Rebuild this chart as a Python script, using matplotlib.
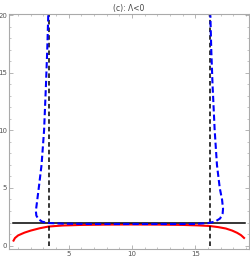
import matplotlib.pyplot as plt
import numpy as np

# values
red_x = [0.6, 0.75, 1.0, 1.5, 2.0, 2.7, 3.4, 4.5, 6, 8, 10, 12, 14, 15.2, 16.1, 16.8, 17.4, 17.9, 18.3, 18.6, 18.9]
red_y = [0.35, 0.65, 0.88, 1.12, 1.3, 1.5, 1.65, 1.74, 1.79, 1.82, 1.83, 1.82, 1.79, 1.75, 1.7, 1.6, 1.48, 1.3, 1.1, 0.9, 0.6]

blue_x = [3.38, 3.3, 3.2, 3.05, 2.85, 2.63, 2.47, 2.4, 2.44, 2.6, 2.9, 3.35, 4.5, 7, 10, 13, 15,
          16.0, 16.55, 16.95, 17.15, 17.18, 17.1, 16.92, 16.7, 16.52, 16.35, 16.25, 16.18]
blue_y = [20, 17, 14, 10, 7, 5, 3.6, 3.0, 2.6, 2.3, 2.07, 1.96, 1.9, 1.87, 1.87, 1.87, 1.88,
          1.95, 2.08, 2.35, 2.8, 3.2, 4, 5, 7, 10, 14, 17, 20]

asymptotes = [3.44, 16.13]
level = 2.0
level_span = [0.6, 18.94]

fig = plt.figure(figsize=(2.5, 2.61), dpi=100)
ax = fig.add_axes([0.036, 0.046, 0.96, 0.9])

ax.plot(red_x, red_y, color='red', lw=1.5, solid_capstyle='butt')
ax.plot(level_span, [level, level], color='black', lw=1.1)
for xa in asymptotes:
    ax.plot([xa, xa], [0, 20], color='black', lw=1.1, ls=(0, (3, 2)))
ax.plot(blue_x, blue_y, color='blue', lw=1.5, ls=(0, (3, 1.5)))

ax.set_xlim(0.28, 19.23)
ax.set_ylim(-0.3, 20.1)
ax.set_xticks([5, 10, 15])
ax.set_yticks([0, 5, 10, 15, 20])
ax.set_xticks(np.arange(1, 20), minor=True)
ax.set_yticks(np.arange(0, 21), minor=True)
ax.tick_params(which='both', direction='in', top=True, right=True, colors='#999999',
               labelcolor='#555555', labelsize=5, pad=1.2)
ax.tick_params(which='major', length=3, width=0.5)
ax.tick_params(which='minor', length=1.5, width=0.4)
for s in ax.spines.values():
    s.set_color('#aaaaaa')
    s.set_linewidth(0.8)

ax.set_title('(c): Λ<0', fontsize=5.5, color='#444444', pad=2)

fig.savefig('out.png', dpi=100)
